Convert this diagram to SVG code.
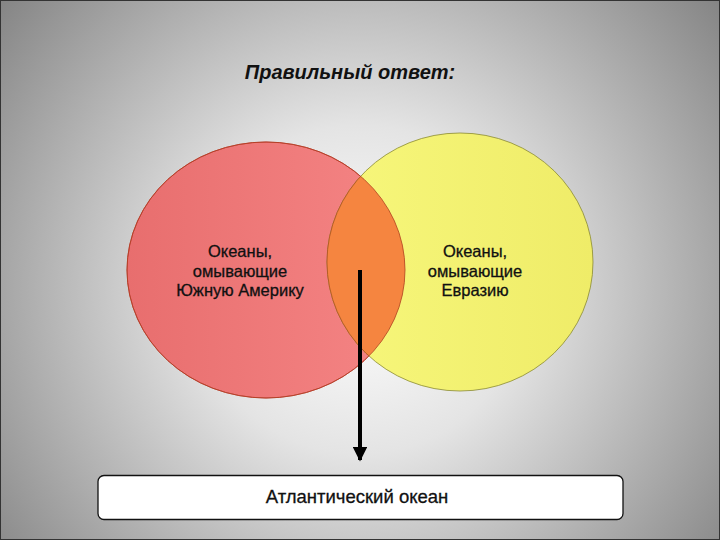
<svg xmlns="http://www.w3.org/2000/svg" width="720" height="540" viewBox="0 0 720 540">
<defs>
<radialGradient id="bg" cx="360" cy="290" r="470" gradientUnits="userSpaceOnUse">
<stop offset="0" stop-color="#ffffff"/>
<stop offset="0.35" stop-color="#e4e4e4"/>
<stop offset="1" stop-color="#828282"/>
</radialGradient>
<linearGradient id="red" x1="0" y1="0" x2="1" y2="0">
<stop offset="0" stop-color="#e86e6e"/>
<stop offset="1" stop-color="#f58585"/>
</linearGradient>
<linearGradient id="yel" x1="0" y1="0" x2="1" y2="0">
<stop offset="0" stop-color="#f7f77c"/>
<stop offset="1" stop-color="#efec68"/>
</linearGradient>
<clipPath id="redClip"><ellipse cx="266" cy="270" rx="139" ry="128"/></clipPath>
<marker id="arr" viewBox="0 0 10 10" refX="9" refY="5" markerWidth="5" markerHeight="3.6" orient="auto" markerUnits="strokeWidth">
<path d="M0,0 L10,5 L0,10 Z" fill="#000"/>
</marker>
<style>
.lbl{font-family:"Liberation Sans",Arial,sans-serif;font-size:16.5px;fill:#111;stroke:#111;stroke-width:0.3;text-anchor:middle}
</style>
</defs>
<rect x="0" y="0" width="720" height="540" fill="url(#bg)"/>
<rect x="0.5" y="0.5" width="719" height="539" fill="none" stroke="#333" stroke-width="1"/>
<text x="350" y="79" font-family="Liberation Sans, Arial, sans-serif" font-size="20" font-weight="bold" font-style="italic" fill="#111" text-anchor="middle">Правильный ответ:</text>
<g id="red-set">
<ellipse cx="266" cy="270" rx="139" ry="128" fill="url(#red)" stroke="#c03030" stroke-width="0.8"/>
</g>
<g id="yellow-set">
<ellipse cx="460" cy="262" rx="133" ry="129" fill="url(#yel)" stroke="#8a8a30" stroke-width="0.8"/>
</g>
<g id="intersection">
<ellipse cx="460" cy="262" rx="133" ry="129" fill="#f58540" stroke="#b05020" stroke-width="0.8" clip-path="url(#redClip)"/>
<ellipse cx="266" cy="270" rx="139" ry="128" fill="none" stroke="#b04020" stroke-width="0.8"/>
</g>
<g id="labels">
<text class="lbl"><tspan x="240" y="257">Океаны,</tspan><tspan x="240" y="277">омывающие</tspan><tspan x="240" y="296">Южную Америку</tspan></text>
<text class="lbl"><tspan x="475" y="257">Океаны,</tspan><tspan x="475" y="277">омывающие</tspan><tspan x="475" y="296">Евразию</tspan></text>
</g>
<g id="connectors">
<line x1="360" y1="270" x2="360" y2="460" stroke="#000" stroke-width="4" marker-end="url(#arr)"/>
</g>
<g id="answer">
<rect x="98" y="475.5" width="525" height="44" rx="6" fill="#fff" stroke="#111" stroke-width="1.3"/>
<text x="357" y="503" font-family="Liberation Sans, Arial, sans-serif" font-size="18.5" fill="#111" stroke="#111" stroke-width="0.3" text-anchor="middle">Атлантический океан</text>
</g>
</svg>
